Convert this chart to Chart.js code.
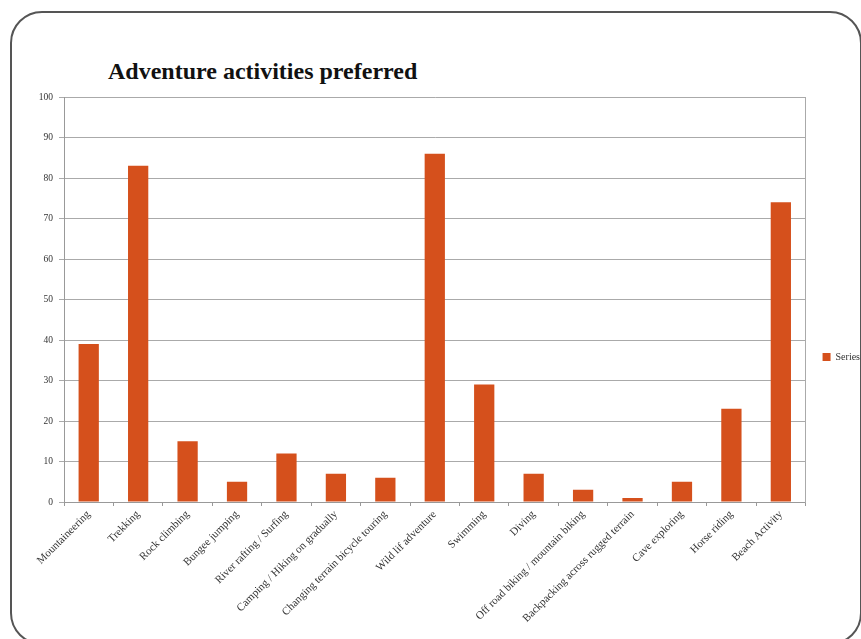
<!DOCTYPE html>
<html>
<head>
<meta charset="utf-8">
<script src="https://cdn.jsdelivr.net/npm/chart.js@4.4.1/dist/chart.umd.min.js"></script>
<style>
  html, body { margin: 0; padding: 0; width: 861px; height: 639px; overflow: hidden; background: #fff; }
  #frame { position: absolute; left: 10px; top: 11px; width: 852px; height: 634px; border: 2px solid #555; border-radius: 32px; box-sizing: border-box; }
  #title { position: absolute; left: 108px; top: 58px; font-family: "Liberation Serif", "DejaVu Serif", serif; font-weight: bold; font-size: 24px; color: #111; white-space: nowrap; }
  #wrap { position: absolute; left: 0; top: 0; width: 875px; height: 714px; }
</style>
</head>
<body>
<div id="frame"></div>
<div id="title">Adventure activities preferred</div>
<div id="wrap"><canvas id="c"></canvas></div>
<script>
const categories = [
  "Mountaineering", "Trekking", "Rock climbing", "Bungee jumping",
  "River rafting / Surfing", "Camping / Hiking on gradually",
  "Changing terrain bicycle touring", "Wild lif adventure", "Swimming",
  "Diving", "Off road biking / mountain biking",
  "Backpacking across rugged terrain", "Cave exploring", "Horse riding",
  "Beach Activity"
];
const seriesName = "Series1";
const seriesValues = [39, 83, 15, 5, 12, 7, 6, 86, 29, 7, 3, 1, 5, 23, 74];
const yTicks = [0, 10, 20, 30, 40, 50, 60, 70, 80, 90, 100];

const serif = "'Liberation Serif', 'DejaVu Serif', serif";

new Chart(document.getElementById('c'), {
  type: 'bar',
  data: {
    labels: categories,
    datasets: [{
      label: seriesName,
      data: seriesValues,
      backgroundColor: '#D5501C',
      borderWidth: 0,
      barPercentage: 0.41,
      categoryPercentage: 1.0
    }]
  },
  options: {
    responsive: true,
    maintainAspectRatio: false,
    animation: false,
    layout: { padding: { top: 0, left: 0, right: 0, bottom: 0 } },
    plugins: {
      title: { display: false },
      tooltip: { enabled: false },
      legend: {
        display: true,
        position: 'right',
        align: 'center',
        labels: {
          boxWidth: 8,
          boxHeight: 8,
          padding: 10,
          color: '#333',
          font: { family: serif, size: 10 }
        }
      }
    },
    scales: {
      xTop: {
        type: 'category',
        position: 'top',
        display: true,
        grid: { display: false, drawTicks: false },
        border: { display: false },
        ticks: { display: false },
        afterFit: (s) => { s.height = 97; }
      },
      x: {
        offset: true,
        grid: { display: true, offset: true, drawOnChartArea: false, drawTicks: true, tickLength: 4, color: '#999' },
        border: { display: true, color: '#999', width: 1 },
        ticks: {
          autoSkip: false,
          maxRotation: 45,
          minRotation: 45,
          color: '#333',
          padding: 2,
          font: { family: serif, size: 11 }
        },
        afterFit: (s) => { s.height = 714 - 502; }
      },
      y: {
        min: 0,
        max: 100,
        afterBuildTicks: (s) => { s.ticks = yTicks.map(v => ({ value: v })); },
        grid: { color: '#aaa', lineWidth: 1, drawTicks: true, tickLength: 5 },
        border: { display: true, color: '#999', width: 1 },
        ticks: {
          color: '#333',
          padding: 6,
          font: { family: serif, size: 9.5 }
        },
        afterFit: (s) => { s.width = 64; }
      },
      y2: {
        position: 'right',
        min: 0,
        max: 100,
        grid: { drawOnChartArea: false, drawTicks: false },
        border: { display: true, color: '#aaa', width: 1 },
        ticks: { display: false },
        afterFit: (s) => { s.width = 7; }
      }
    }
  }
});
</script>
</body>
</html>
